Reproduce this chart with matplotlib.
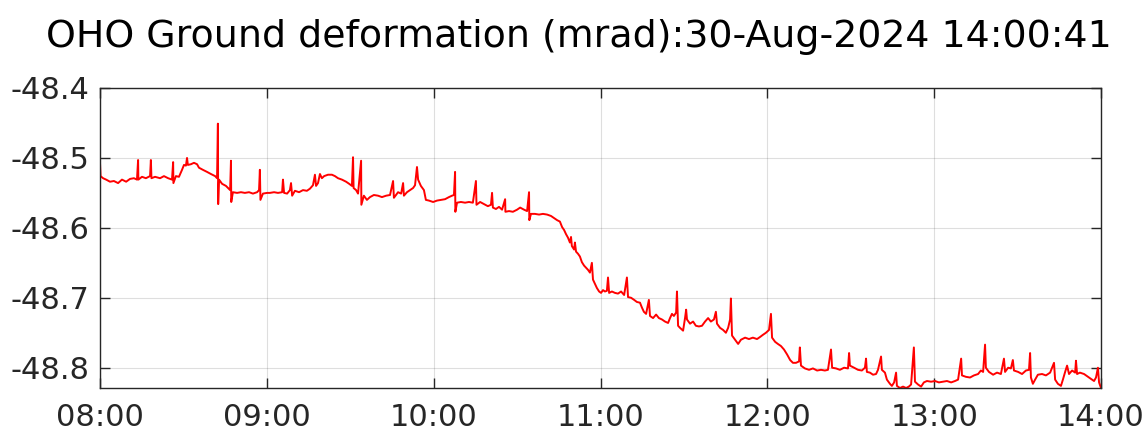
import matplotlib
matplotlib.use("Agg")
import matplotlib.pyplot as plt
import matplotlib.dates as mdates
import numpy as np
import datetime as dt

plt.rcParams['font.family'] = ['DejaVu Sans']
plt.rcParams['axes.unicode_minus'] = False

title_text = "OHO Ground deformation (mrad):30-Aug-2024 14:00:41"
start_time = dt.datetime(2024, 8, 30, 8, 0, 0)

minutes = [
    0, 0.2, 1.1, 2.2, 3.6, 5.0, 6.5, 7.9, 9.4, 10.8, 12.2, 13.3, 13.7, 13.8, 15.1, 16.5, 18.0, 18.3, 18.5, 19.8,
    21.6, 23.0, 24.5, 25.9, 26.3, 26.4, 27.3, 28.4, 29.5, 30.2, 30.9, 31.3, 31.6, 32.7, 33.8, 34.9, 35.6, 37.0,
    38.5, 39.9, 41.4, 42.1, 42.4, 42.5, 42.8, 43.9, 45.3, 46.8, 47.1, 47.2, 47.8, 49.3, 50.7, 52.1, 53.6, 55.0,
    56.5, 57.2, 57.5, 57.7, 58.6, 60.1,
    61.1, 62.6, 64.0, 65.5, 65.8, 66.2, 67.3, 68.3, 68.7, 69.1, 70.1, 71.6, 73.0, 74.4, 75.5, 76.6, 77.3, 77.7,
    78.4, 79.1, 79.8, 80.6, 82.0, 83.4, 84.5, 85.6, 87.0, 88.5, 89.6, 90.6, 91.0, 91.2, 92.1, 92.8, 93.9, 94.0,
    94.9, 96.0, 97.1, 98.5, 100.0, 101.4, 102.9, 104.3, 105.4, 105.7, 107.2, 108.3, 109.0, 109.3, 110.4, 111.5,
    112.6, 113.3, 114.0, 114.4, 115.4, 116.5, 117.2, 118.3, 119.8, 121.2, 122.6,
    124.1, 125.5, 126.6, 127.3, 127.7, 127.8, 128.4, 129.8, 131.3, 132.7, 134.1, 135.2, 135.4, 136.7, 138.1,
    139.5, 140.6, 141.0, 141.3, 142.4, 143.5, 144.6, 145.7, 145.8, 147.1, 148.5, 150.0, 151.1, 152.5, 153.6,
    154.3, 154.4, 155.0, 156.4, 157.9, 159.3, 160.8, 162.2, 163.3, 164.4, 165.4, 166.2, 166.9, 167.6, 168.3,
    169.0, 169.4, 169.7, 170.5, 170.8, 171.2, 171.9, 172.6, 173.3, 174.1, 174.8, 175.5, 176.2, 176.9, 177.3,
    178.0, 178.7, 179.5, 180.2, 180.9, 181.6, 182.3, 182.7, 183.1, 184.1,
    185.2, 186.3, 187.4, 188.5, 189.5, 189.9, 191.0, 192.1, 193.1, 194.2, 194.9, 195.6, 196.4, 197.4, 197.8,
    198.9, 200.0, 201.0, 202.1, 203.2, 204.3, 205.0, 205.7, 206.4, 207.2, 207.5, 207.9, 208.6, 209.7, 210.4,
    210.8, 211.1, 212.2, 213.3, 214.3, 215.4, 216.5, 217.6, 218.7, 219.7, 220.8, 221.5, 221.9, 223.0, 224.1,
    225.1, 225.9, 226.6, 226.9, 227.3, 228.4, 229.5, 230.5, 232.0, 233.4, 234.8, 236.3, 237.4, 238.4, 239.5,
    240.6, 241.3, 241.7, 242.8, 243.8, 244.9, 246.0, 247.1, 248.2, 249.2, 250.3, 251.4, 251.7, 252.1, 253.5,
    255.0, 256.4, 257.9, 259.3, 260.7, 261.8,
    262.9, 263.3, 264.7, 266.1, 267.6, 269.0, 269.4, 269.7, 271.2, 272.6, 274.0, 275.1, 275.5, 275.8, 276.9,
    278.0, 279.1, 279.8, 280.9, 281.2, 282.3, 283.0, 284.1, 284.8, 285.6, 286.3, 286.6, 287.7, 288.8, 289.9,
    290.9, 291.7, 292.7, 293.1, 294.2, 295.3, 296.3, 297.4, 298.9, 300.3, 301.7, 303.2, 304.6, 306.1, 307.5,
    308.6, 309.7, 310.0, 311.4, 312.9, 314.3, 315.8, 316.8, 317.6, 318.3, 318.6, 319.7, 321.2, 322.6, 324.0,
    325.1, 325.5, 326.6, 327.6, 328.3, 328.7, 330.2, 331.6, 333.0, 334.1, 334.5, 334.8, 335.5, 336.3, 337.3,
    338.8, 340.2, 341.7, 343.1, 343.5, 344.5, 345.6, 346.3, 347.1, 347.8, 348.5, 349.6, 350.7, 351.0, 351.4,
    352.4, 353.9, 355.3, 356.4, 357.5, 358.2, 358.9, 359.3, 360.0,
]

tilt_mrad = [
    -48.507, -48.526, -48.529, -48.531, -48.534, -48.533, -48.536, -48.531, -48.534, -48.530, -48.529, -48.531,
    -48.503, -48.531, -48.527, -48.529, -48.526, -48.503, -48.529, -48.527, -48.529, -48.526, -48.529, -48.531,
    -48.506, -48.536, -48.526, -48.527, -48.517, -48.510, -48.511, -48.500, -48.510, -48.509, -48.507, -48.509,
    -48.514, -48.517, -48.520, -48.523, -48.526, -48.529, -48.451, -48.566, -48.531, -48.537, -48.540, -48.546,
    -48.504, -48.563, -48.549, -48.550, -48.549, -48.550, -48.549, -48.551, -48.549, -48.546, -48.517, -48.560,
    -48.551, -48.550,
    -48.550, -48.549, -48.550, -48.549, -48.531, -48.550, -48.551, -48.546, -48.536, -48.554, -48.547, -48.549,
    -48.546, -48.547, -48.544, -48.539, -48.524, -48.540, -48.536, -48.523, -48.529, -48.526, -48.524, -48.524,
    -48.526, -48.529, -48.531, -48.534, -48.537, -48.540, -48.499, -48.543, -48.546, -48.551, -48.504, -48.567,
    -48.554, -48.560, -48.556, -48.553, -48.554, -48.556, -48.554, -48.553, -48.533, -48.557, -48.549, -48.551,
    -48.536, -48.554, -48.549, -48.546, -48.543, -48.539, -48.513, -48.531, -48.540, -48.546, -48.560, -48.561,
    -48.563, -48.561, -48.560,
    -48.559, -48.556, -48.554, -48.553, -48.520, -48.577, -48.564, -48.563, -48.564, -48.563, -48.564, -48.533,
    -48.567, -48.563, -48.566, -48.569, -48.567, -48.550, -48.571, -48.573, -48.570, -48.574, -48.559, -48.577,
    -48.576, -48.577, -48.574, -48.571, -48.574, -48.576, -48.549, -48.589, -48.580, -48.580, -48.581, -48.580,
    -48.581, -48.583, -48.586, -48.589, -48.591, -48.599, -48.603, -48.609, -48.614, -48.621, -48.613, -48.626,
    -48.631, -48.621, -48.634, -48.637, -48.641, -48.649, -48.654, -48.657, -48.660, -48.664, -48.650, -48.674,
    -48.680, -48.686, -48.691, -48.693, -48.689, -48.691, -48.690, -48.671, -48.693, -48.691,
    -48.693, -48.694, -48.691, -48.696, -48.671, -48.699, -48.700, -48.703, -48.706, -48.707, -48.714, -48.720,
    -48.723, -48.703, -48.726, -48.729, -48.724, -48.729, -48.731, -48.734, -48.736, -48.729, -48.723, -48.726,
    -48.721, -48.691, -48.740, -48.743, -48.747, -48.729, -48.717, -48.731, -48.737, -48.734, -48.740, -48.741,
    -48.740, -48.734, -48.729, -48.734, -48.731, -48.720, -48.737, -48.743, -48.746, -48.750, -48.743, -48.731,
    -48.701, -48.754, -48.760, -48.766, -48.760, -48.757, -48.759, -48.757, -48.759, -48.756, -48.753, -48.750,
    -48.746, -48.723, -48.757, -48.763, -48.766, -48.769, -48.774, -48.781, -48.789, -48.793, -48.793, -48.791,
    -48.771, -48.797, -48.801, -48.803, -48.801, -48.804, -48.803, -48.804, -48.803,
    -48.774, -48.800, -48.801, -48.803, -48.800, -48.801, -48.779, -48.797, -48.800, -48.803, -48.804, -48.800,
    -48.787, -48.806, -48.807, -48.810, -48.809, -48.803, -48.784, -48.803, -48.807, -48.817, -48.823, -48.826,
    -48.821, -48.807, -48.826, -48.829, -48.827, -48.829, -48.827, -48.824, -48.771, -48.820, -48.824, -48.827,
    -48.821, -48.819, -48.820, -48.819, -48.821, -48.820, -48.819, -48.821, -48.819, -48.817, -48.787, -48.811,
    -48.813, -48.814, -48.811, -48.809, -48.804, -48.806, -48.767, -48.800, -48.806, -48.810, -48.807, -48.809,
    -48.787, -48.806, -48.800, -48.801, -48.789, -48.804, -48.806, -48.809, -48.804, -48.803, -48.779, -48.814,
    -48.823, -48.817, -48.810, -48.809, -48.811, -48.807, -48.793, -48.817, -48.823, -48.826, -48.817, -48.806,
    -48.797, -48.809, -48.804, -48.807, -48.790, -48.809, -48.807, -48.809, -48.813, -48.816, -48.819, -48.814,
    -48.800, -48.821, -48.829,
]

y_ticks = [-48.4, -48.5, -48.6, -48.7, -48.8]
y_tick_labels = ["-48.4", "-48.5", "-48.6", "-48.7", "-48.8"]
x_tick_hours = [8, 9, 10, 11, 12, 13, 14]

times = [start_time + dt.timedelta(minutes=m) for m in minutes]

fig = plt.figure(figsize=(11.48, 4.32), dpi=100)
ax = fig.add_axes([100/1148, 44/432, 1001/1148, 300/432])

ax.plot(times, tilt_mrad, color='#ff0000', linewidth=1.4)

xt = [start_time.replace(hour=h) for h in x_tick_hours]
ax.set_xlim(xt[0], xt[-1])
ax.set_xticks(xt)
ax.xaxis.set_major_formatter(mdates.DateFormatter('%H:%M'))
ax.set_ylim(min(tilt_mrad), -48.4)
ax.set_yticks(y_ticks)
ax.set_yticklabels(y_tick_labels)

ax.grid(True, color='#262626', alpha=0.15, linewidth=0.8)
ax.tick_params(axis='both', direction='in', length=7, width=1, colors='#262626',
               labelsize=22, top=True, right=True, labelcolor='#262626')
ax.tick_params(axis='x', pad=11)
ax.tick_params(axis='y', pad=7.5)
for s in ax.spines.values():
    s.set_color('#262626')
    s.set_linewidth(1.0)

fig.text(0.504, 1 - 47/432, title_text, ha='center', va='baseline', fontsize=27.3, color='#000000')

fig.savefig('out.png', dpi=100)
